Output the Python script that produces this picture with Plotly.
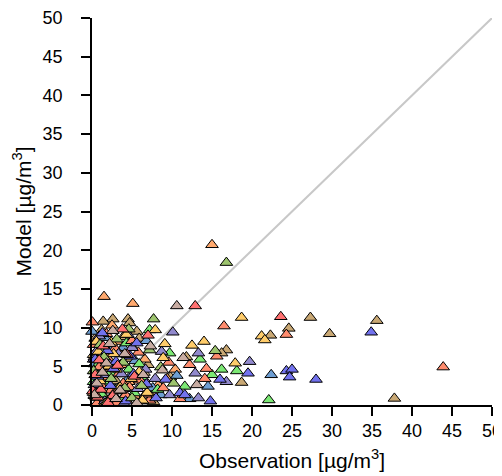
import plotly.graph_objects as go

# ---- data (observation, model) per series ----
orange_obs = [15.0, 1.5, 5.1, 0.3, 1.0, 2.2, 3.1, 4.0, 5.5, 6.6, 7.4, 10.4, 0.8, 2.8, 3.6, 1.7, 4.6, 8.3, 0.2, 2.5, 6.1, 9.4,
              0.5, 1.3, 2.0, 3.3, 4.3, 0.9, 1.9]
orange_mod = [20.7, 14.0, 13.1, 6.2, 3.5, 4.8, 8.2, 2.1, 1.0, 5.9, 1.1, 4.6, 0.4, 0.9, 5.2, 7.0, 3.0, 2.6, 1.6, 10.3, 0.5, 3.4,
              2.3, 1.4, 0.2, 1.8, 0.6, 8.8, 4.0]

salmon_obs = [0.05, 16.5, 15.6, 12.2, 14.3, 14.1, 8.9, 24.3, 43.9, 1.2, 2.0, 3.4, 4.2, 5.0, 6.0, 7.2, 0.6, 1.8, 2.9, 9.6, 11.0, 3.9, 5.8, 0.3,
              0.9, 2.4, 3.1, 4.7, 1.5, 6.7, 0.2]
salmon_mod = [10.7, 10.2, 6.3, 5.2, 4.7, 3.4, 2.2, 9.1, 4.9, 2.5, 6.0, 4.1, 1.3, 8.3, 3.2, 0.6, 0.2, 9.2, 7.3, 5.5, 0.8, 2.8, 6.8, 4.4,
              4.9, 1.9, 0.3, 2.3, 3.6, 1.4, 7.8]

red_obs = [12.9, 23.6, 0.4, 1.4, 2.6, 3.8, 0.9, 5.3, 7.0, 2.0, 4.4, 0.1, 0.7, 3.2, 1.1]
red_mod = [12.8, 11.4, 3.9, 7.6, 1.2, 9.8, 5.8, 3.7, 9.0, 0.3, 6.5, 1.8, 1.0, 5.1, 2.0]

tan_obs = [27.3, 24.6, 29.7, 22.3, 35.6, 37.8, 2.6, 4.5, 4.7, 1.2, 5.6, 5.1, 3.6, 16.8, 16.2, 18.7, 0.4, 1.9, 3.0, 6.5, 8.1, 0.7, 2.3, 4.9, 7.7, 9.8, 11.8, 1.5, 3.3,
           0.2, 1.1, 2.8, 4.0, 5.9, 3.9, 1.4, 7.0]
tan_mod = [11.3, 9.9, 9.2, 9.0, 10.9, 0.85, 11.1, 11.1, 10.6, 9.7, 9.5, 7.4, 7.1, 7.1, 6.7, 2.9, 8.6, 5.6, 3.1, 4.2, 1.7, 1.0, 7.9, 6.0, 0.4, 3.6, 6.2, 2.0, 0.2,
           6.5, 3.3, 5.0, 0.9, 8.6, 8.8, 10.8, 5.2]

yellow_obs = [18.7, 21.2, 21.6, 0.55, 7.9, 9.1, 12.5, 14.0, 17.9, 8.9, 2.1, 3.5, 1.0, 5.9, 6.9, 0.3, 4.3, 2.7,
              0.8, 1.6, 3.0, 4.9, 2.4, 6.3]
yellow_mod = [11.3, 8.9, 8.4, 8.2, 9.7, 7.9, 7.7, 8.2, 5.4, 6.1, 5.0, 2.3, 3.1, 4.3, 1.6, 1.2, 9.1, 6.6,
              6.9, 0.2, 4.6, 3.4, 8.1, 0.6]

green_obs = [7.2, 4.3, 9.7, 13.5, 16.2, 18.1, 11.6, 5.3, 22.1, 0.6, 1.7, 2.9, 3.7, 6.3, 8.2, 0.2, 2.3, 15.0,
             1.2, 2.0, 3.3, 4.6, 0.9, 5.9]
green_mod = [9.7, 8.0, 6.7, 5.9, 4.6, 4.4, 2.4, 1.55, 0.65, 5.0, 2.9, 6.9, 0.7, 3.6, 2.0, 3.0, 4.1, 3.9,
             1.4, 5.6, 2.2, 4.6, 7.2, 5.3]

olive_obs = [16.8, 7.7, 7.2, 1.0, 2.4, 3.9, 5.0, 6.2, 0.5, 8.6, 10.2, 4.6, 1.5, 15.4, 0.2, 1.9, 3.1, 4.1, 2.6]
olive_mod = [18.4, 11.1, 7.1, 7.8, 3.4, 5.5, 0.9, 2.5, 1.0, 4.9, 2.8, 9.8, 6.2, 7.0, 4.4, 0.4, 8.5, 2.2, 1.3]

blue_obs = [34.9, 24.3, 25.0, 24.7, 28.0, 19.5, 16.0, 11.0, 11.6, 14.8, 1.3, 2.7, 3.6, 4.8, 6.8, 8.0, 0.4, 9.2, 5.6,
            0.7, 1.9, 3.0, 4.2, 2.3, 5.2]
blue_mod = [9.4, 4.4, 4.6, 3.6, 3.3, 4.1, 3.3, 1.55, 1.3, 0.5, 9.3, 4.7, 1.9, 6.3, 2.7, 0.9, 5.9, 3.3, 8.0,
            3.7, 7.0, 5.6, 0.5, 2.5, 4.0]

purple_obs = [10.1, 4.5, 8.7, 13.3, 19.7, 12.9, 16.8, 13.3, 9.7, 0.9, 2.2, 3.3, 5.7, 6.7, 1.6, 7.9, 0.3, 4.0,
              0.6, 1.4, 2.6, 3.7, 5.0, 0.2]
purple_mod = [9.4, 9.1, 6.9, 6.7, 5.6, 4.1, 3.0, 0.9, 1.3, 8.9, 5.3, 6.6, 2.1, 4.6, 0.5, 3.4, 2.6, 0.2,
              7.0, 3.9, 1.1, 4.0, 7.4, 5.9]

steel_obs = [0.0, 6.8, 14.5, 22.4, 1.1, 2.4, 3.2, 4.6, 5.4, 7.6, 8.6, 0.5, 10.6, 12.2, 0.3, 1.6, 2.9, 3.9, 6.0]
steel_mod = [9.5, 8.3, 2.4, 3.9, 4.6, 7.0, 0.7, 3.5, 5.7, 2.2, 1.3, 1.9, 3.8, 0.8, 5.3, 8.7, 2.0, 7.4, 4.0]

taupe_obs = [10.6, 11.4, 13.1, 5.6, 1.8, 3.0, 4.1, 6.4, 0.6, 8.8, 2.6, 7.3, 0.3, 1.3, 2.2, 3.5]
taupe_mod = [12.8, 6.1, 2.6, 0.26, 5.4, 0.8, 6.6, 3.9, 2.8, 4.5, 9.6, 7.6, 1.3, 4.2, 7.9, 1.9]

one_to_one = [0, 50]
tick_vals = [0, 5, 10, 15, 20, 25, 30, 35, 40, 45, 50]

series = [
    (tan_obs, tan_mod, "#C9A874"),
    (orange_obs, orange_mod, "#FFA96E"),
    (steel_obs, steel_mod, "#6E9ED2"),
    (green_obs, green_mod, "#7BE874"),
    (salmon_obs, salmon_mod, "#FF8C6E"),
    (purple_obs, purple_mod, "#9189CD"),
    (yellow_obs, yellow_mod, "#FFCC6A"),
    (blue_obs, blue_mod, "#7272EE"),
    (olive_obs, olive_mod, "#9DC46E"),
    (red_obs, red_mod, "#FF7070"),
    (taupe_obs, taupe_mod, "#C8ACA2"),
]

FONT = "Liberation Sans, Arial, sans-serif"

fig = go.Figure()
fig.add_trace(go.Scatter(x=one_to_one, y=one_to_one, mode="lines",
                         line=dict(color="#C8C8C8", width=2), showlegend=False,
                         hoverinfo="skip"))
for xs, ys, col in series:
    fig.add_trace(go.Scatter(
        x=xs, y=ys, mode="markers", cliponaxis=False, showlegend=False,
        marker=dict(symbol="triangle-up", size=11, color=col,
                    line=dict(color="black", width=1))))

axis_common = dict(
    range=[0, 50], tickvals=tick_vals, showgrid=False, zeroline=False,
    showline=True, linecolor="black", linewidth=1.5,
    ticks="outside", ticklen=9, tickwidth=1.5, tickcolor="black",
    tickfont=dict(family=FONT, size=18, color="black"),
    title_font=dict(family=FONT, size=21, color="black"),
    automargin=False, ticklabeloverflow="allow",
)
fig.update_xaxes(**axis_common, title_text="Observation [µg/m<sup>3</sup>]",
                 title_standoff=13, ticklabelstandoff=0)
fig.update_yaxes(**axis_common, title_text="Model [µg/m<sup>3</sup>]",
                 title_standoff=5, ticklabelstandoff=15)

# the page adds an 8px body margin, so the figure is 8px smaller than the window
fig.update_layout(
    width=494, height=468,
    margin=dict(l=84, r=10, t=10, b=71),
    plot_bgcolor="white", paper_bgcolor="white",
    showlegend=False,
)
fig.write_html("out.html")
